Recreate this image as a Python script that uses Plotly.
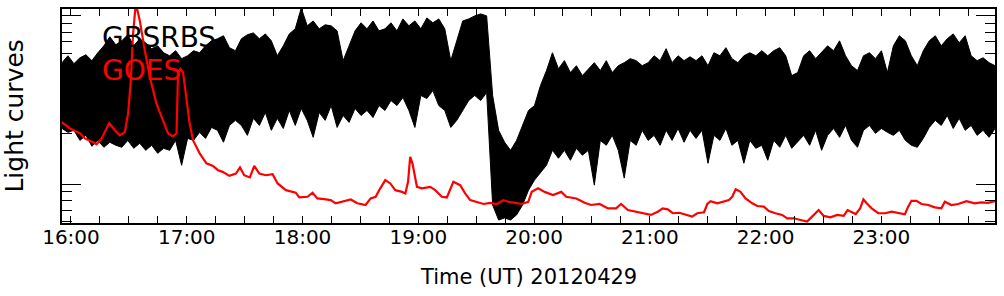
import numpy as np
import pandas as pd
import plotly.graph_objects as go

# ---------------- data ----------------
base = pd.Timestamp("2012-04-29 16:00:00")

# GBSRBS: upper / lower envelope of the (very noisy) light curve, log10 of relative flux
gbs_t0_min = -4.66      # first sample, minutes after 16:00
gbs_dt_min = 3.10       # sample spacing, minutes
gbs_top_log = [
    0.722, 0.763, 0.716, 0.751, 0.769, 0.734, 0.781, 0.822, 0.876, 0.828,
    0.852, 0.888, 0.822, 0.864, 0.840, 0.805, 0.822, 0.781, 0.763, 0.793,
    0.746, 0.763, 0.793, 0.781, 0.822, 0.852, 0.864, 0.882, 0.811, 0.793,
    0.864, 0.888, 0.899, 0.864, 0.893, 0.852, 0.763, 0.822, 0.893, 0.923,
    1.047, 0.941, 0.970, 0.923, 0.947, 0.941, 0.911, 0.734, 0.822, 0.911,
    0.959, 0.923, 0.970, 0.911, 0.923, 0.959, 0.911, 0.982, 0.941, 0.970,
    0.923, 0.988, 0.959, 0.982, 0.923, 0.734, 0.852, 0.970, 0.982, 1.000,
    1.012, 1.000, 0.527, 0.320, 0.249, 0.201, 0.260, 0.349, 0.438, 0.467,
    0.586, 0.675, 0.781, 0.686, 0.734, 0.663, 0.704, 0.645, 0.686, 0.722,
    0.675, 0.734, 0.663, 0.704, 0.722, 0.746, 0.734, 0.704, 0.722, 0.763,
    0.734, 0.805, 0.722, 0.763, 0.734, 0.757, 0.734, 0.763, 0.704, 0.781,
    0.763, 0.811, 0.746, 0.722, 0.763, 0.781, 0.763, 0.793, 0.763, 0.793,
    0.811, 0.763, 0.645, 0.663, 0.763, 0.793, 0.746, 0.781, 0.822, 0.793,
    0.852, 0.763, 0.704, 0.675, 0.763, 0.781, 0.746, 0.793, 0.663, 0.822,
    0.882, 0.852, 0.763, 0.704, 0.793, 0.852, 0.882, 0.822, 0.864, 0.893,
    0.840, 0.882, 0.763, 0.734, 0.751, 0.722, 0.704,
]
gbs_bot_log = [
    0.331, 0.308, 0.320, 0.260, 0.290, 0.225, 0.260, 0.219, 0.249, 0.231,
    0.219, 0.260, 0.213, 0.243, 0.201, 0.231, 0.183, 0.213, 0.201, 0.260,
    0.112, 0.272, 0.260, 0.308, 0.272, 0.337, 0.320, 0.249, 0.349, 0.379,
    0.349, 0.290, 0.391, 0.349, 0.426, 0.320, 0.391, 0.331, 0.438, 0.349,
    0.450, 0.379, 0.278, 0.426, 0.379, 0.467, 0.337, 0.408, 0.367, 0.450,
    0.408, 0.438, 0.396, 0.467, 0.438, 0.497, 0.467, 0.515, 0.438, 0.337,
    0.527, 0.509, 0.556, 0.467, 0.438, 0.337, 0.379, 0.438, 0.497, 0.527,
    0.497, 0.544, -0.124, -0.213, -0.201, -0.213, -0.183, -0.124, -0.036, 0.024,
    0.071, 0.112, 0.201, 0.154, 0.201, 0.142, 0.213, 0.172, 0.201, -0.006,
    0.260, 0.231, 0.290, 0.201, 0.036, 0.260, 0.231, 0.320, 0.260, 0.290,
    0.231, 0.320, 0.260, 0.331, 0.249, 0.320, 0.272, 0.320, 0.124, 0.290,
    0.260, 0.331, 0.231, 0.260, 0.124, 0.260, 0.213, 0.231, 0.142, 0.260,
    0.219, 0.290, 0.213, 0.249, 0.290, 0.231, 0.320, 0.201, 0.290, 0.331,
    0.278, 0.349, 0.260, 0.219, 0.320, 0.349, 0.302, 0.331, 0.308, 0.290,
    0.320, 0.260, 0.231, 0.219, 0.272, 0.337, 0.379, 0.349, 0.408, 0.331,
    0.391, 0.320, 0.349, 0.290, 0.320, 0.278, 0.331,
]

# GOES: minutes after 16:00 and log10 of relative flux
goes_t_min = [
    -4.8, -0.5, 4.7, 7.2, 11.4, 13.3, 15.9, 19.8, 22.8, 25.3,
    27.9, 29.6, 30.9, 32.2, 33.6, 35.7, 38.3, 40.9, 44.3, 47.7,
    50.3, 52.9, 54.7, 55.5, 56.7, 58.1, 59.8, 61.5, 63.3, 66.7,
    70.2, 73.6, 76.2, 78.6, 82.1, 85.5, 87.6, 89.8, 92.7, 95.0,
    97.6, 101.0, 104.5, 107.1, 111.4, 116.5, 118.3, 122.6, 125.2, 127.7,
    131.2, 134.6, 137.2, 140.7, 145.0, 148.4, 152.7, 155.3, 157.9, 160.3,
    162.9, 165.5, 168.1, 171.6, 173.3, 174.7, 175.8, 177.0, 179.3, 181.9,
    186.2, 188.8, 192.2, 194.8, 196.5, 198.2, 201.7, 204.3, 206.9, 210.3,
    213.8, 217.2, 220.7, 224.1, 226.7, 230.2, 233.6, 237.0, 238.8, 242.1,
    245.5, 249.8, 254.1, 256.7, 261.9, 266.2, 269.6, 274.0, 278.3, 282.5,
    285.1, 288.6, 292.9, 297.2, 300.6, 304.1, 306.7, 309.3, 311.9, 315.3,
    318.8, 321.9, 324.6, 328.1, 329.8, 331.5, 335.0, 338.4, 341.0, 342.7,
    344.5, 347.0, 349.6, 353.1, 355.7, 359.1, 361.7, 365.1, 368.6, 371.2,
    374.6, 378.1, 381.5, 384.1, 387.5, 390.1, 393.6, 397.1, 400.5, 402.5,
    404.6, 406.7, 409.0, 410.7, 412.4, 415.0, 418.4, 421.9, 425.3, 428.8,
    432.2, 433.9, 435.6, 438.2, 440.8, 444.3, 447.7, 451.1, 452.9, 456.3,
    459.8, 464.1, 468.4, 471.8, 475.3, 479.6,
]
goes_log = [
    0.369, 0.331, 0.302, 0.272, 0.249, 0.237, 0.272, 0.363, 0.320, 0.290,
    0.309, 0.420, 0.598, 0.893, 1.077, 0.970, 0.793, 0.635, 0.479, 0.379,
    0.302, 0.284, 0.302, 0.664, 0.685, 0.664, 0.517, 0.361, 0.260, 0.183,
    0.124, 0.108, 0.083, 0.073, 0.049, 0.063, 0.099, 0.053, 0.040, 0.108,
    0.063, 0.053, 0.059, 0.004, -0.036, -0.051, -0.079, -0.075, -0.051, -0.085,
    -0.089, -0.095, -0.114, -0.105, -0.091, -0.114, -0.124, -0.085, -0.075, -0.025,
    0.024, 0.004, -0.036, -0.046, -0.055, 0.014, 0.162, 0.122, -0.016, -0.025,
    -0.016, -0.036, -0.075, -0.079, -0.036, 0.014, -0.006, -0.055, -0.095, -0.108,
    -0.118, -0.111, -0.118, -0.095, -0.105, -0.111, -0.118, -0.105, -0.046, -0.025,
    -0.046, -0.065, -0.046, -0.075, -0.085, -0.111, -0.124, -0.118, -0.144, -0.144,
    -0.118, -0.154, -0.164, -0.173, -0.183, -0.164, -0.144, -0.150, -0.173, -0.170,
    -0.183, -0.193, -0.173, -0.167, -0.118, -0.101, -0.114, -0.105, -0.095, -0.075,
    -0.031, -0.046, -0.085, -0.114, -0.130, -0.134, -0.160, -0.173, -0.183, -0.203,
    -0.203, -0.213, -0.223, -0.193, -0.154, -0.189, -0.197, -0.183, -0.189, -0.154,
    -0.164, -0.178, -0.144, -0.091, -0.114, -0.144, -0.173, -0.173, -0.164, -0.173,
    -0.179, -0.134, -0.099, -0.099, -0.118, -0.124, -0.138, -0.144, -0.105, -0.124,
    -0.118, -0.101, -0.114, -0.108, -0.111, -0.099,
]

hour_labels = ["16:00", "17:00", "18:00", "19:00", "20:00", "21:00", "22:00", "23:00"]
y_major = [1, 10]
y_minor = [0.6, 0.7, 0.8, 0.9, 2, 3, 4, 5, 6, 7, 8, 9]
x_range_min = [-4.65, 478.9]

# ---------------- figure ----------------
def to_time(mins):
    return [base + pd.Timedelta(minutes=float(m)) for m in mins]

n = len(gbs_top_log)
gbs_t = to_time(gbs_t0_min + gbs_dt_min * np.arange(n))
poly_x = gbs_t + gbs_t[::-1]
poly_y = list(10 ** np.array(gbs_top_log)) + list(10 ** np.array(gbs_bot_log))[::-1]

fig = go.Figure()
fig.add_trace(go.Scatter(
    x=poly_x, y=poly_y, mode="lines", fill="toself",
    fillcolor="black", line=dict(color="black", width=1),
    hoverinfo="skip", name="GBSRBS"))
fig.add_trace(go.Scatter(
    x=to_time(goes_t_min), y=list(10 ** np.array(goes_log)), mode="lines",
    line=dict(color="#ff0000", width=2.2), name="GOES"))

hour_vals = to_time([60 * i for i in range(len(hour_labels))])
quarter_vals = to_time([15 * i for i in range(-1, 33)])

fig.update_layout(
    width=1004, height=296,
    margin=dict(l=62, r=7, t=8, b=73),
    paper_bgcolor="white", plot_bgcolor="white",
    showlegend=False,
    font=dict(family="DejaVu Sans", color="black"),
    xaxis=dict(
        type="date",
        range=to_time(x_range_min),
        tickmode="array", tickvals=hour_vals, ticktext=hour_labels,
        ticks="inside", ticklen=7, tickwidth=1, tickcolor="black",
        ticklabelstandoff=-5,
        minor=dict(tickmode="array", tickvals=quarter_vals, ticks="inside",
                   ticklen=7, tickwidth=1, tickcolor="black"),
        showline=True, linecolor="black", linewidth=2, mirror="ticks",
        showgrid=False, zeroline=False,
        tickfont=dict(size=20, family="DejaVu Sans", color="black"),
    ),
    yaxis=dict(
        type="log",
        range=[-0.231, 1.041],
        tickmode="array", tickvals=y_major,
        ticks="inside", ticklen=19, tickwidth=1, tickcolor="black",
        minor=dict(tickmode="array", tickvals=y_minor, ticks="inside",
                   ticklen=10, tickwidth=1, tickcolor="black"),
        showticklabels=False,
        showline=True, linecolor="black", linewidth=2, mirror="ticks",
        showgrid=False, zeroline=False,
    ),
    annotations=[
        dict(text="GBSRBS", xref="paper", yref="paper", x=0.0406, y=0.865,
             xanchor="left", yanchor="middle", showarrow=False,
             font=dict(size=28, color="black", family="DejaVu Sans")),
        dict(text="GOES", xref="paper", yref="paper", x=0.0406, y=0.712,
             xanchor="left", yanchor="middle", showarrow=False,
             font=dict(size=28, color="#ff0000", family="DejaVu Sans")),
        dict(text="Time (UT) 20120429", xref="paper", yref="paper", x=0.4995, y=-0.251,
             xanchor="center", yanchor="middle", showarrow=False,
             font=dict(size=21, color="black", family="DejaVu Sans")),
        dict(text="Light curves", xref="paper", yref="paper", x=-0.0513, y=0.498,
             xanchor="center", yanchor="middle", textangle=-90, showarrow=False,
             font=dict(size=25, color="black", family="DejaVu Sans")),
    ],
)

fig.write_html("out.html")
